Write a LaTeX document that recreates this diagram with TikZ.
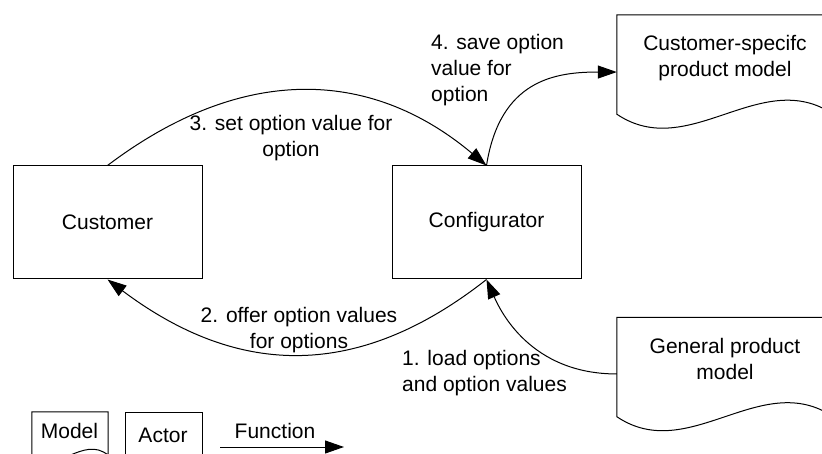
\documentclass[tikz,border=0pt]{standalone}
\usepackage{fontspec}
\setmainfont{Liberation Sans}
\usetikzlibrary{arrows.meta,calc}
\begin{document}
\begin{tikzpicture}[x=1pt,y=-1pt,
  every node/.style={font=\fontsize{21}{26}\selectfont},
  box/.style={draw, line width=1pt, minimum width=189pt, minimum height=113pt, inner sep=0pt},
  docbox/.style={minimum width=216pt, minimum height=99pt, inner sep=0pt},
  txt/.style={inner sep=0pt, align=center},
  outline/.style={line width=1pt},
  flow/.style={line width=1pt, -{Triangle[length=19pt,width=13pt]}}]
\clip (0,0) rectangle (822,454);

% actors
\node[box] (cust) at (107.5,222.5) {Customer};
\node[box] (conf) at (486.5,222.5) {Configurator};

% product model documents
\node[docbox] (csm) at (725,64.5) {};
\node[docbox] (gpm) at (725,367) {};
\foreach \d in {csm,gpm}{
  \draw[outline] (\d.south west) -- (\d.north west) -- (\d.north east) -- (\d.south east)
    .. controls ($(\d.south east)+(-72,-48.5)$) and ($(\d.south west)+(72,48.5)$) .. (\d.south west) -- cycle;
}
\node[txt] (csmtext) at (725,58) {Customer-specifc\\product model};
\node[txt] (gpmtext) at (725,359) {General product\\model};

\coordinate (csmin) at ($(csm.north west)!0.576!(csm.south west)$);
\coordinate (gpmout) at ($(gpm.north west)!0.57!(gpm.south west)$);

% functions
\draw[flow] (cust.north) .. controls (239,66) and (368,66) .. (conf.north);
\draw[flow] (conf.north) .. controls (500,80) and (555,72) .. (csmin);
\draw[flow] (conf.south) .. controls (360,379) and (240,379) .. (cust.south);
\draw[flow] (gpmout) .. controls (530,374) and (500,310) .. (conf.south);

\node[txt] (l3) at (291,138) {3. set option value for\\option};
\node[txt, anchor=west, align=left] (l4) at (431,70) {4. save option\\value for\\option};
\node[txt] (l2) at (299,330) {2. offer option values\\for options};
\node[txt, anchor=west, align=left] (l1) at (402,373) {1. load options\\and option values};

% legend
\node[minimum width=76pt, minimum height=43pt, inner sep=0pt] (lgmodel) at (70,433.5) {};
\draw[outline] (lgmodel.south west) -- (lgmodel.north west) -- (lgmodel.north east) -- (lgmodel.south east)
  .. controls ($(lgmodel.south east)+(-25.3,-20.8)$) and ($(lgmodel.south west)+(25.3,20.8)$) .. (lgmodel.south west) -- cycle;
\node[inner sep=0pt, anchor=base] (lgmodeltext) at (69.5,438) {Model};

\node[draw, line width=1pt, minimum width=77pt, minimum height=58pt, inner sep=0pt] (lgactor) at (163.5,441) {};
\node[inner sep=0pt, anchor=base] (lgactortext) at (163,442) {Actor};

\coordinate (lgfa) at (220,447);
\coordinate (lgfb) at (344,447);
\draw[flow] (lgfa) -- (lgfb);
\node[inner sep=0pt, anchor=base] (lgfunction) at (275,438) {Function};
\end{tikzpicture}
\end{document}
